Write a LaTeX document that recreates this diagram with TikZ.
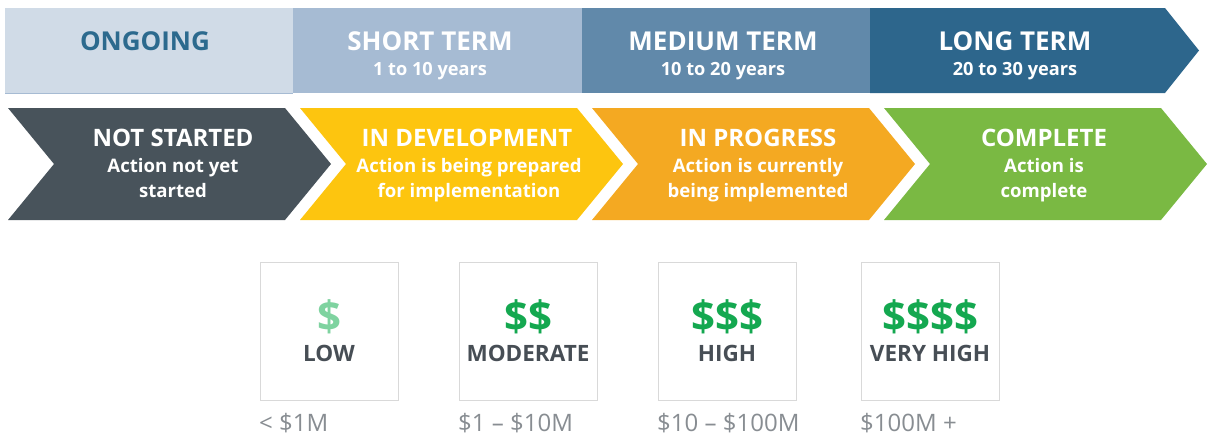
\documentclass[tikz,border=0pt]{standalone}
\usepackage{fontspec}
\setmainfont{Open Sans}
\definecolor{ongoing}{HTML}{D0DBE7}
\definecolor{shortc}{HTML}{A6BBD3}
\definecolor{medc}{HTML}{6189AA}
\definecolor{longc}{HTML}{2D668C}
\definecolor{titleblue}{HTML}{2C6A8E}
\definecolor{notc}{HTML}{48535B}
\definecolor{devc}{HTML}{FDC50F}
\definecolor{progc}{HTML}{F4A922}
\definecolor{compc}{HTML}{7AB943}
\definecolor{lowg}{HTML}{7FD3A0}
\definecolor{dolg}{HTML}{14A850}
\definecolor{lbl}{HTML}{474E55}
\definecolor{rng}{HTML}{888D92}
\definecolor{boxc}{HTML}{D9D9D9}
\tikzset{
  toptitle/.style={font=\bfseries\fontsize{26}{28}\selectfont, text=white, inner sep=0pt, anchor=base},
  topsub/.style={font=\bfseries\fontsize{18.2}{20}\selectfont, text=white, inner sep=0pt, anchor=base},
  chtitle/.style={font=\bfseries\fontsize{24}{26}\selectfont, text=white, inner sep=0pt, anchor=base},
  chsub/.style={font=\bfseries\fontsize{18.6}{20}\selectfont, text=white, inner sep=0pt, anchor=base},
  costbox/.style={draw=boxc, line width=1.3pt, fill=white, minimum width=138pt, minimum height=138pt, inner sep=0pt, anchor=north west},
  dollar/.style={font=\bfseries\fontsize{42}{44}\selectfont, text=dolg, inner sep=0pt, anchor=base},
  costlbl/.style={font=\bfseries\fontsize{22.5}{24}\selectfont, text=lbl, inner sep=0pt, anchor=base},
  costrange/.style={font=\fontsize{24}{26}\selectfont, text=rng, inner sep=0pt, anchor=base west},
}
\begin{document}
\begin{tikzpicture}[x=1pt,y=-1pt]
\useasboundingbox (0,0) rectangle (1211,437);
% top bar
\fill[ongoing] (5,8) rectangle (293,93);
\fill[shortc] (293,8) rectangle (582,93);
\fill[medc] (582,8) rectangle (870,93);
\fill[longc] (870,8) -- (1165,8) -- (1199,50.5) -- (1165,93) -- (870,93) -- cycle;
\draw[shortc, line width=0.8pt] (5,93) -- (293,93);
\node[toptitle, text=titleblue] (ongoing) at (145,50.7) {ONGOING};
\node[toptitle] (short) at (430,50.7) {SHORT TERM};
\node[topsub] (shorty) at (430,75.5) {1 to 10 years};
\node[toptitle] (medium) at (723,50.7) {MEDIUM TERM};
\node[topsub] (mediumy) at (723,75.5) {10 to 20 years};
\node[toptitle] (long) at (1015,50.7) {LONG TERM};
\node[topsub] (longy) at (1015,75.5) {20 to 30 years};
% chevrons
\foreach \x/\c in {8/notc, 300/devc, 592/progc, 884/compc}{
  \fill[\c] (\x,108) -- (\x+277,108) -- (\x+323,164) -- (\x+277,220) -- (\x,220) -- (\x+46,164) -- cycle;
}
\node[chtitle] (ns) at (173,146.7) {NOT STARTED};
\node[chsub] (nsa) at (173,172.3) {Action not yet};
\node[chsub] (nsb) at (173,197.7) {started};
\node[chtitle] (dev) at (467,146.7) {IN DEVELOPMENT};
\node[chsub] (deva) at (469,172.3) {Action is being prepared};
\node[chsub] (devb) at (469,197.7) {for implementation};
\node[chtitle] (prog) at (758,146.7) {IN PROGRESS};
\node[chsub] (proga) at (758,172.3) {Action is currently};
\node[chsub] (progb) at (758,197.7) {being implemented};
\node[chtitle] (comp) at (1044,146.7) {COMPLETE};
\node[chsub] (compa) at (1044,172.3) {Action is};
\node[chsub] (compb) at (1044,197.7) {complete};
% cost boxes
\node[costbox] (b1) at (260,262) {};
\node[costbox] (b2) at (459,262) {};
\node[costbox] (b3) at (658,262) {};
\node[costbox] (b4) at (861,262) {};
\node[dollar, text=lowg] (d1) at (329,331) {\$};
\node[dollar] (d2) at (528,331) {\$\$};
\node[dollar] (d3) at (727,331) {\$\$\$};
\node[dollar] (d4) at (930,331) {\$\$\$\$};
\node[costlbl] (l1) at (329,361) {LOW};
\node[costlbl] (l2) at (528,361) {MODERATE};
\node[costlbl] (l3) at (727,361) {HIGH};
\node[costlbl] (l4) at (930,361) {VERY HIGH};
\node[costrange] (r1) at (259,431) {< \$1M};
\node[costrange] (r2) at (458,431) {\$1 – \$10M};
\node[costrange] (r3) at (657,431) {\$10 – \$100M};
\node[costrange] (r4) at (860,431) {\$100M +};
\end{tikzpicture}
\end{document}
